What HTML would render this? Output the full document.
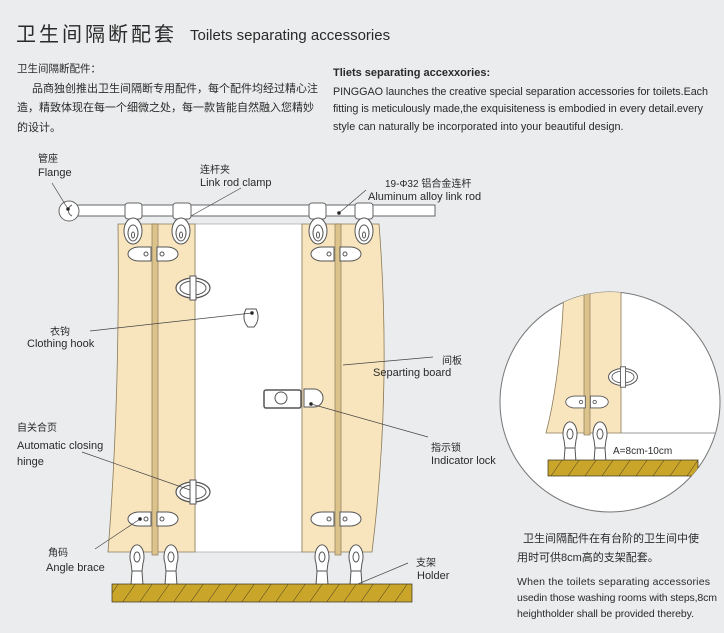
<!DOCTYPE html>
<html><head><meta charset="utf-8"><style>
html,body{margin:0;padding:0;background:#eaeced;}
svg{display:block}
text{font-family:"Liberation Sans","Noto Sans CJK SC",sans-serif;fill:#2a2a2a}
</style></head><body>
<svg width="724" height="633" viewBox="0 0 724 633" xmlns="http://www.w3.org/2000/svg">
<defs>
<pattern id="h" width="17" height="18" patternUnits="userSpaceOnUse" patternTransform="skewX(-35)">
<rect width="17" height="18" fill="#c9a52a"/><line x1="0" y1="0" x2="0" y2="18" stroke="#3a3020" stroke-width="1"/></pattern>
<g id="foot"><path d="M-6,-10 a7,12 0 1,1 12,0 l-1,8 h-10z" fill="#fff" stroke="#555"/><ellipse cx="0" cy="-16" rx="3" ry="5" fill="none" stroke="#555"/><path d="M-5,-2 h10 l1,14 l5,5 h-22 l5,-5z" fill="#fff" stroke="#555"/></g>
<g id="hang"><ellipse cx="0" cy="0" rx="9" ry="13" fill="#fff" stroke="#555"/><ellipse cx="0" cy="2" rx="5" ry="8" fill="none" stroke="#555"/><ellipse cx="0" cy="4" rx="1.5" ry="3" fill="none" stroke="#555"/></g>
<g id="brace"><path d="M-2,-7 h-12 a11,7 0 0,0 0,14 h12z" fill="#fff" stroke="#555"/><path d="M4,-7 h10 a11,7 0 0,1 0,14 h-10z" fill="#fff" stroke="#555"/><circle cx="-7" cy="0" r="2" fill="none" stroke="#555"/><circle cx="9" cy="0" r="2" fill="none" stroke="#555"/></g>
<g id="hinge"><ellipse cx="0" cy="0" rx="17" ry="10" fill="#fff" stroke="#555" stroke-width="1.2"/><ellipse cx="0" cy="0" rx="13" ry="7" fill="none" stroke="#555"/><rect x="-3" y="-12" width="6" height="24" fill="#fff" stroke="#555"/></g>
</defs>
<text x="16" y="41" font-size="20" letter-spacing="3">卫生间隔断配套</text>
<text x="190" y="40" font-size="15">Toilets separating accessories</text>
<text x="17" y="72" font-size="10.5">卫生间隔断配件：</text>
<text x="32" y="92" font-size="11">品商独创推出卫生间隔断专用配件，每个配件均经过精心注</text>
<text x="17" y="111" font-size="11">造，精致体现在每一个细微之处，每一款皆能自然融入您精妙</text>
<text x="17" y="131" font-size="11">的设计。</text>
<text x="333" y="76" font-size="11" font-weight="bold">Tliets separating accexxories:</text>
<text x="333" y="95" font-size="10.8" textLength="375">PINGGAO launches the creative special separation accessories for toilets.Each</text>
<text x="333" y="112" font-size="10.8" textLength="370">fitting is meticulously made,the exquisiteness is embodied in every detail.every</text>
<text x="333" y="130" font-size="10.8">style can naturally be incorporated into your beautiful design.</text>

<rect x="195" y="224" width="107" height="328" fill="#fff" stroke="#999" stroke-width="0.6"/>
<path d="M118,224 H195 V552 H108 Q120,400 118,224Z" fill="#f8e5bd" stroke="#8a7a5a" stroke-width="0.8"/>
<path d="M302,224 H379 Q392,390 372,552 H302Z" fill="#f8e5bd" stroke="#8a7a5a" stroke-width="0.8"/>
<rect x="152" y="224" width="6" height="331" fill="#dcc38c" stroke="#8a7a5a" stroke-width="0.7"/>
<rect x="335" y="224" width="6" height="331" fill="#dcc38c" stroke="#8a7a5a" stroke-width="0.7"/>
<rect x="68" y="205" width="367" height="11" fill="#fff" stroke="#666"/>
<circle cx="69" cy="211" r="10" fill="#fff" stroke="#666"/>
<path d="M72,205 a6,6 0 0,0 0,11" fill="#fff" stroke="#666"/>
<g fill="#fff" stroke="#666"><rect x="125" y="203" width="17" height="16" rx="3"/><rect x="173" y="203" width="18" height="16" rx="3"/><rect x="309" y="203" width="17" height="16" rx="3"/><rect x="355" y="203" width="18" height="16" rx="3"/></g>
<use href="#hang" x="133" y="231"/><use href="#hang" x="181" y="231"/><use href="#hang" x="318" y="231"/><use href="#hang" x="364" y="231"/>
<use href="#brace" x="153" y="254"/><use href="#brace" x="336" y="254"/><use href="#brace" x="153" y="519"/><use href="#brace" x="336" y="519"/>
<use href="#hinge" x="193" y="288"/><use href="#hinge" x="193" y="492"/>
<path d="M246,309 h10 q5,10 -2,18 h-6 q-7,-8 -2,-18z" fill="#fff" stroke="#555"/>
<rect x="264" y="390" width="37" height="18" rx="2" fill="#fff" stroke="#555" stroke-width="1.5"/>
<circle cx="281" cy="398" r="6" fill="#fff" stroke="#555"/>
<path d="M304,389 h10 a8,8 0 0,1 0,18 h-10z" fill="#fff" stroke="#555"/>
<use href="#foot" x="137" y="573"/><use href="#foot" x="171" y="573"/><use href="#foot" x="322" y="573"/><use href="#foot" x="356" y="573"/>
<rect x="112" y="584" width="300" height="18" fill="url(#h)" stroke="#3a3020" stroke-width="0.7"/>
<g stroke="#444" stroke-width="0.7" fill="#222">
<line x1="52" y1="183" x2="68" y2="209"/><circle cx="68" cy="209" r="1.5"/>
<line x1="241" y1="188" x2="191" y2="216"/>
<line x1="366" y1="190" x2="339" y2="213"/><circle cx="339" cy="213" r="1.5"/>
<line x1="90" y1="331" x2="252" y2="313"/><circle cx="252" cy="313" r="1.5"/>
<line x1="433" y1="357" x2="343" y2="365"/>
<line x1="82" y1="452" x2="190" y2="490"/>
<line x1="95" y1="549" x2="140" y2="519"/><circle cx="140" cy="519" r="1.5"/>
<line x1="428" y1="437" x2="311" y2="404"/><circle cx="311" cy="404" r="1.5"/>
<line x1="408" y1="563" x2="358" y2="584"/>
</g>
<g font-size="11">
<text x="38" y="162" font-size="10">管座</text><text x="38" y="176">Flange</text>
<text x="200" y="173" font-size="10">连杆夹</text><text x="200" y="186">Link rod clamp</text>
<text x="385" y="187" font-size="10">19-Φ32 铝合金连杆</text><text x="368" y="200">Aluminum alloy link rod</text>
<text x="50" y="335" font-size="10">衣钩</text><text x="27" y="347">Clothing hook</text>
<text x="442" y="364" font-size="10">间板</text><text x="373" y="376">Separting board</text>
<text x="17" y="431" font-size="10">自关合页</text><text x="17" y="449">Automatic closing</text><text x="17" y="465">hinge</text>
<text x="431" y="451" font-size="10">指示锁</text><text x="431" y="464">Indicator lock</text>
<text x="48" y="556" font-size="10">角码</text><text x="46" y="571">Angle brace</text>
<text x="416" y="566" font-size="10">支架</text><text x="417" y="579">Holder</text>
</g>
<clipPath id="c"><circle cx="610" cy="402" r="110"/></clipPath>
<circle cx="610" cy="402" r="110" fill="#fff" stroke="#777"/>
<g clip-path="url(#c)">
<path d="M564,290 H621 V433 H546 Q560,380 564,290Z" fill="#f8e5bd" stroke="#8a7a5a" stroke-width="0.8"/>
<line x1="621" y1="433" x2="720" y2="433" stroke="#999"/>
<rect x="584" y="290" width="6" height="145" fill="#dcc38c" stroke="#8a7a5a" stroke-width="0.7"/>
<g transform="translate(587,402) scale(0.85)"><use href="#brace"/></g>
<g transform="translate(623,377) scale(0.85)"><use href="#hinge"/></g>
<use href="#foot" x="570" y="450"/><use href="#foot" x="600" y="450"/>
<rect x="548" y="460" width="150" height="16" fill="url(#h)" stroke="#3a3020" stroke-width="0.7"/>
</g>
<text x="613" y="454" font-size="10">A=8cm-10cm</text>
<g font-size="11">
<text x="523" y="542">卫生间隔配件在有台阶的卫生间中使</text>
<text x="517" y="561">用时可供8cm高的支架配套。</text>
<text x="517" y="585" font-size="10.5" textLength="193">When the toilets separating accessories</text>
<text x="517" y="601" font-size="10.5" textLength="200">usedin those washing rooms with steps,8cm</text>
<text x="517" y="617" font-size="10.5" textLength="177">heightholder shall be provided thereby.</text>
</g>
</svg>
</body></html>
